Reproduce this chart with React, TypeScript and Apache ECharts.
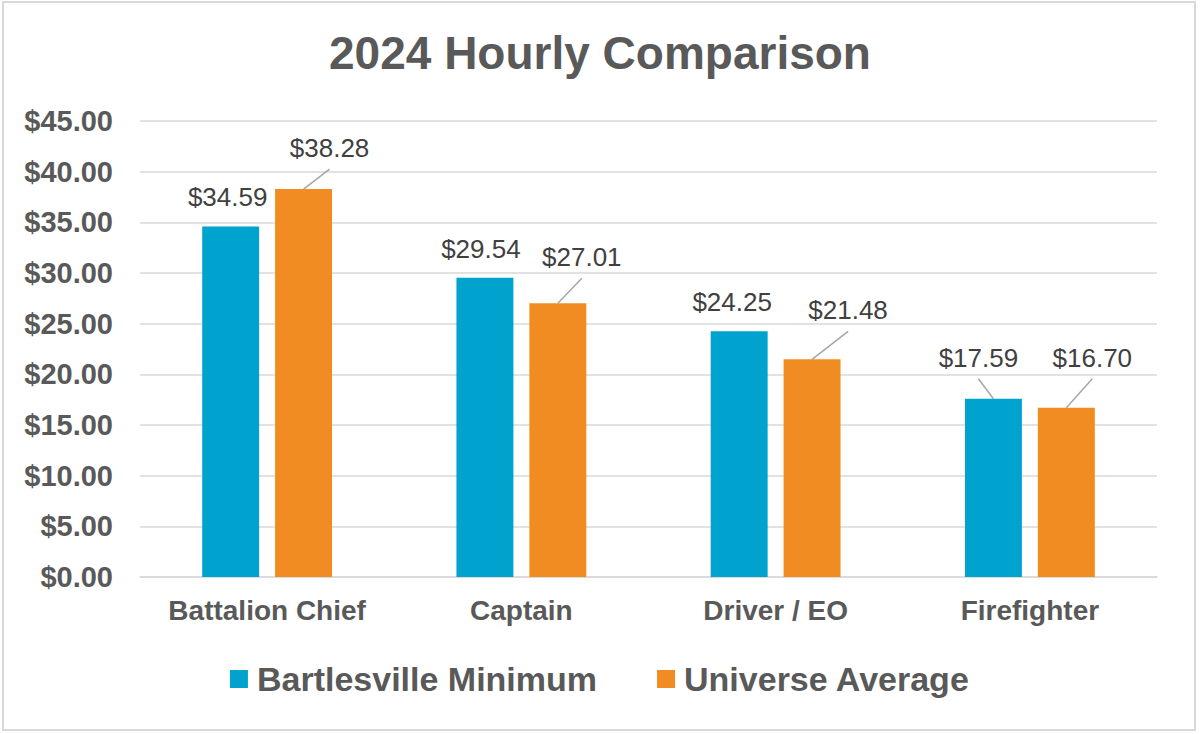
import React, { useEffect, useRef } from "react";
import * as echarts from "echarts";

const categories = ["Battalion Chief", "Captain", "Driver / EO", "Firefighter"];
const seriesNames = ["Bartlesville Minimum", "Universe Average"];
const bartlesville = [34.59, 29.54, 24.25, 17.59];
const universe = [38.28, 27.01, 21.48, 16.7];
const yTicks = { min: 0, max: 45, interval: 5 };
// label offsets (dx, dy) for callout labels
const blueOffsets = [[-3, 0], [-4, 0], [-7, 0], [-15, -12]];
const orangeOffsets = [[26, -12], [24, -17], [36, -20], [26, -21]];

const FONT = "'Liberation Sans', Arial, sans-serif";
const BAR_RATIO = 0.224;
const GAP_RATIO = 0.28;

export default function App() {
  const ref = useRef<HTMLDivElement>(null);
  useEffect(() => {
    if (!ref.current) return;
    const chart = echarts.init(ref.current, undefined, { renderer: "svg" });
    const labelCommon = {
      show: true,
      position: "top" as const,
      distance: 16,
      fontSize: 26,
      color: "#404040",
      fontFamily: FONT,
      formatter: (p: any) => "$" + Number(p.value).toFixed(2),
    };
    const mkLayout = (offs: number[][]) => (p: any) => ({
      dx: offs[p.dataIndex][0],
      dy: offs[p.dataIndex][1],
    });
    // leader lines for moved labels: [category, value, seriesIndex, dx, dy]
    const leaders: number[][] = [];
    [bartlesville, universe].forEach((vals, si) => {
      const offs = si === 0 ? blueOffsets : orangeOffsets;
      vals.forEach((v, ci) => {
        if (offs[ci][1] !== 0) leaders.push([ci, v, si, offs[ci][0], offs[ci][1]]);
      });
    });
    chart.setOption({
      animation: false,
      textStyle: { fontFamily: FONT },
      title: {
        text: "2024 Hourly Comparison",
        left: "center",
        top: 25,
        textStyle: { fontSize: 46, fontWeight: "bold", color: "#595959", fontFamily: FONT },
      },
      grid: { left: 140, right: 43, top: 121, bottom: 157, containLabel: false },
      legend: {
        top: 657,
        left: "center",
        itemWidth: 18,
        itemHeight: 18,
        itemGap: 60,
        icon: "rect",
        textStyle: {
          fontSize: 34,
          fontWeight: "bold",
          color: "#595959",
          fontFamily: FONT,
          padding: [0, 0, 0, 4],
        },
        data: seriesNames,
      },
      xAxis: {
        type: "category",
        data: categories,
        axisLine: { show: true, lineStyle: { color: "#d9d9d9", width: 1.5 } },
        axisTick: { show: false },
        axisLabel: {
          interval: 0,
          fontSize: 28,
          fontWeight: "bold",
          color: "#595959",
          margin: 19,
          fontFamily: FONT,
        },
      },
      yAxis: {
        type: "value",
        min: yTicks.min,
        max: yTicks.max,
        interval: yTicks.interval,
        axisLine: { show: false },
        axisTick: { show: false },
        splitLine: { lineStyle: { color: "#d9d9d9", width: 1.5 } },
        axisLabel: {
          fontSize: 29,
          fontWeight: "bold",
          color: "#595959",
          margin: 27,
          fontFamily: FONT,
          formatter: (v: number) => "$" + v.toFixed(2),
        },
      },
      series: [
        {
          name: seriesNames[0],
          type: "bar",
          data: bartlesville,
          barWidth: BAR_RATIO * 100 + "%",
          barGap: GAP_RATIO * 100 + "%",
          itemStyle: { color: "#00A3CE" },
          label: labelCommon,
          labelLayout: mkLayout(blueOffsets),
        },
        {
          name: seriesNames[1],
          type: "bar",
          data: universe,
          barWidth: BAR_RATIO * 100 + "%",
          itemStyle: { color: "#F08C22" },
          label: labelCommon,
          labelLayout: mkLayout(orangeOffsets),
        },
        {
          name: "leaders",
          type: "custom",
          silent: true,
          encode: { x: 0, y: 1 },
          data: leaders,
          z: 5,
          renderItem: (params: any, api: any) => {
            const ci = api.value(0);
            const v = api.value(1);
            const si = api.value(2);
            const dx = api.value(3);
            const dy = api.value(4);
            const pt = api.coord([ci, v]);
            const band = api.size([1, 0])[0];
            const b = band * BAR_RATIO;
            const g = b * GAP_RATIO;
            const start = pt[0] - (2 * b + g) / 2;
            const bx = start + b / 2 + si * (b + g);
            return {
              type: "line",
              shape: { x1: bx, y1: pt[1], x2: bx + dx, y2: pt[1] - 8 + dy },
              style: { stroke: "#a6a6a6", lineWidth: 1.5 },
            };
          },
        },
      ],
    });
    return () => chart.dispose();
  }, []);
  return (
    <div
      style={{
        position: "absolute",
        left: 2,
        top: 1,
        width: 1194,
        height: 730,
        border: "2px solid #d9d9d9",
        boxSizing: "border-box",
        background: "#fff",
      }}
    >
      <div ref={ref} style={{ position: "absolute", left: -4, top: -3, width: 1200, height: 734 }} />
    </div>
  );
}
